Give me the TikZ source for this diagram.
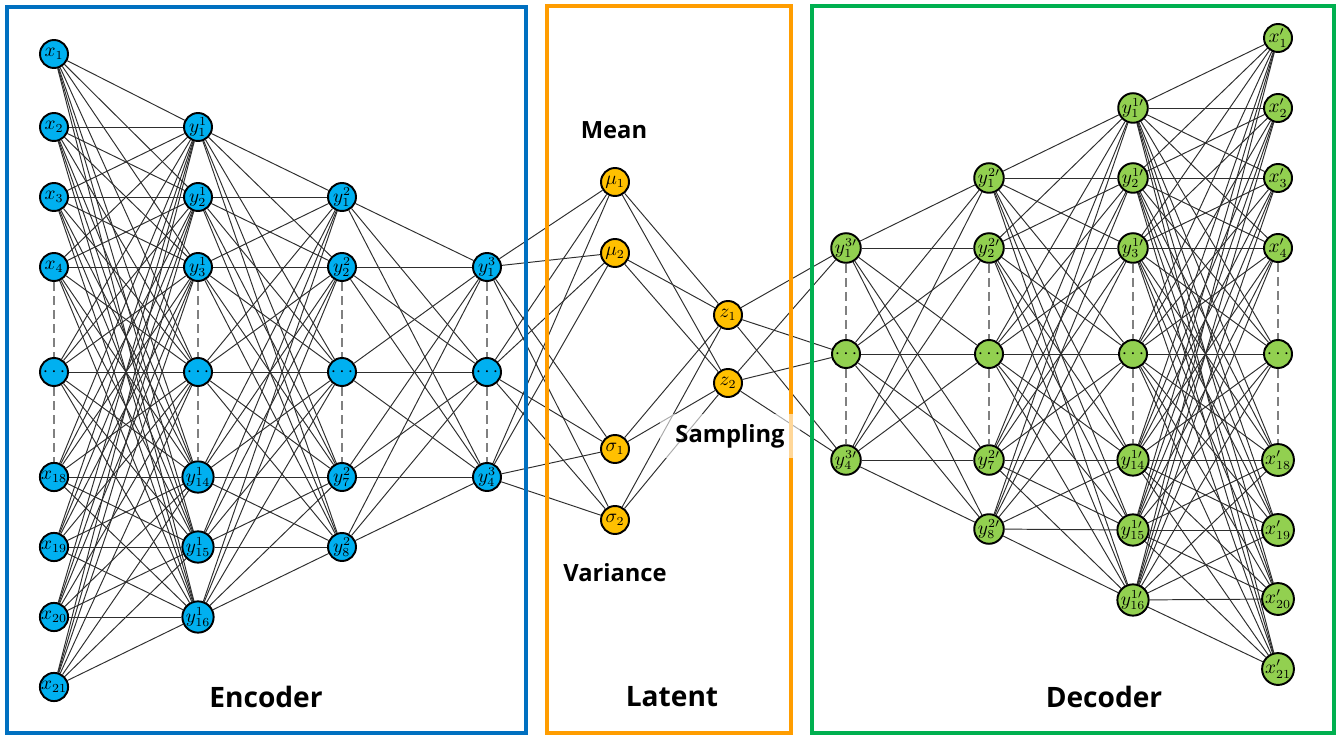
\documentclass[tikz,border=0pt]{standalone}
\usepackage{fontspec}
\newfontfamily\titlefont{Open Sans}
\usetikzlibrary{backgrounds}
\definecolor{encfill}{HTML}{00B0F0}
\definecolor{latfill}{HTML}{FFC000}
\definecolor{decfill}{HTML}{92D050}
\definecolor{encframe}{HTML}{0070C0}
\definecolor{latframe}{HTML}{FF9D00}
\definecolor{decframe}{HTML}{00B050}
\begin{document}
\begin{tikzpicture}[x=0.02cm,y=-0.02cm,
  neuron/.style={circle,draw=black,line width=1.1pt,minimum size=0.56cm,inner sep=0pt,font=\fontsize{10.5}{11}\selectfont},
  enc/.style={neuron,fill=encfill},
  lat/.style={neuron,fill=latfill},
  dec/.style={neuron,fill=decfill},
  edge/.style={draw=black!82,line width=0.55pt},
  skipline/.style={draw=gray,line width=1.2pt,dash pattern=on 5pt off 3pt},
  frame/.style={line width=2.3pt},
  bigtitle/.style={font=\titlefont\bfseries\fontsize{16}{18}\selectfont},
  subtitle/.style={font=\titlefont\bfseries\fontsize{13.5}{15}\selectfont}]
\useasboundingbox (0,0) rectangle (1341,736);

% ---------- encoder ----------
\foreach \yy/\t [count=\i] in {54/x_1,127/x_2,197/x_3,267/x_4,372/\cdots,477/x_{18},547/x_{19},617/x_{20},687/x_{21}}
  \node[enc] (a\i) at (54,\yy) {$\t$};
\foreach \yy/\t [count=\i] in {127/y^1_1,197/y^1_2,267/y^1_3,372/\cdots,477/y^1_{14},547/y^1_{15},617/y^1_{16}}
  \node[enc] (b\i) at (198,\yy) {$\t$};
\foreach \yy/\t [count=\i] in {197/y^2_1,267/y^2_2,372/\cdots,477/y^2_7,547/y^2_8}
  \node[enc] (c\i) at (342,\yy) {$\t$};
\foreach \yy/\t [count=\i] in {267/y^3_1,372/\cdots,477/y^3_4}
  \node[enc] (d\i) at (487,\yy) {$\t$};

% ---------- latent ----------
\foreach \yy/\t [count=\i] in {182/\mu_1,253/\mu_2,449/\sigma_1,520/\sigma_2}
  \node[lat] (m\i) at (615,\yy) {$\t$};
\foreach \yy/\t [count=\i] in {315/z_1,383/z_2}
  \node[lat] (z\i) at (728,\yy) {$\t$};

% ---------- decoder ----------
\foreach \yy/\t [count=\i] in {248/y^{3\prime}_1,354/\cdots,460/y^{3\prime}_4}
  \node[dec] (p\i) at (846,\yy) {$\t$};
\foreach \yy/\t [count=\i] in {178/y^{2\prime}_1,248/y^{2\prime}_2,354/\cdots,460/y^{2\prime}_7,529/y^{2\prime}_8}
  \node[dec] (q\i) at (989,\yy) {$\t$};
\foreach \yy/\t [count=\i] in {108/y^{1\prime}_1,178/y^{1\prime}_2,248/y^{1\prime}_3,354/\cdots,460/y^{1\prime}_{14},530/y^{1\prime}_{15},600/y^{1\prime}_{16}}
  \node[dec] (r\i) at (1133,\yy) {$\t$};
\foreach \yy/\t [count=\i] in {38/x'_1,108/x'_2,178/x'_3,248/x'_4,354/\cdots,460/x'_{18},530/x'_{19},599/x'_{20},669/x'_{21}}
  \node[dec] (s\i) at (1278,\yy) {$\t$};

% ---------- connections ----------
\begin{scope}[on background layer]
  \foreach \i in {1,...,9} \foreach \j in {1,...,7} \draw[edge] (a\i) -- (b\j);
  \foreach \i in {1,...,7} \foreach \j in {1,...,5} \draw[edge] (b\i) -- (c\j);
  \foreach \i in {1,...,5} \foreach \j in {1,...,3} \draw[edge] (c\i) -- (d\j);
  \foreach \i in {1,...,3} \foreach \j in {1,...,4} \draw[edge] (d\i) -- (m\j);
  \foreach \i in {1,...,4} \foreach \j in {1,2} \draw[edge] (m\i) -- (z\j);
  \foreach \i in {1,2} \foreach \j in {1,...,3} \draw[edge] (z\i) -- (p\j);
  \foreach \i in {1,...,3} \foreach \j in {1,...,5} \draw[edge] (p\i) -- (q\j);
  \foreach \i in {1,...,5} \foreach \j in {1,...,7} \draw[edge] (q\i) -- (r\j);
  \foreach \i in {1,...,7} \foreach \j in {1,...,9} \draw[edge] (r\i) -- (s\j);
  % skipped units
  \draw[skipline] (a4) -- (a5) -- (a6);
  \draw[skipline] (b3) -- (b4) -- (b5);
  \draw[skipline] (c2) -- (c3) -- (c4);
  \draw[skipline] (d1) -- (d2) -- (d3);
  \draw[skipline] (p1) -- (p2) -- (p3);
  \draw[skipline] (q2) -- (q3) -- (q4);
  \draw[skipline] (r3) -- (r4) -- (r5);
  \draw[skipline] (s4) -- (s5) -- (s6);
\end{scope}

% ---------- frames ----------
\draw[frame,draw=encframe] (7,7) rectangle (526,733);
\draw[frame,draw=latframe] (547,6) rectangle (791,733);
\draw[frame,draw=decframe] (812,6) rectangle (1334,733);

% ---------- labels ----------
\node[bigtitle] (enclabel) at (266,697) {Encoder};
\node[bigtitle] (latlabel) at (672,697) {Latent};
\node[bigtitle] (declabel) at (1104,697) {Decoder};
\node[subtitle] (meanlabel) at (614,130) {Mean};
\node[subtitle] (varlabel) at (615,573) {Variance};
\node[subtitle,fill=white,fill opacity=0.6,text opacity=1,minimum width=2.8cm,minimum height=0.9cm,inner sep=0pt] (samplabel) at (730,436) {Sampling};
\end{tikzpicture}
\end{document}
